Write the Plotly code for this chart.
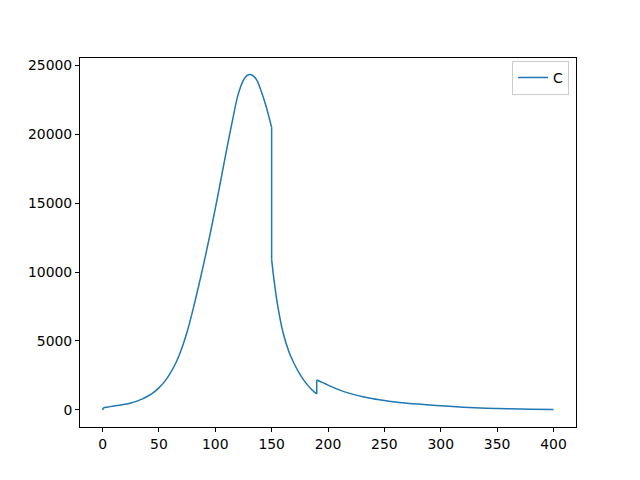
import plotly.graph_objects as go

t = [0, 1, 5, 10, 15, 20, 25, 30, 35, 40, 45, 50, 55, 60, 65, 70, 75, 80, 85, 90,
     95, 100, 105, 110, 115, 120, 125, 128, 131, 134, 137, 140, 145, 150, 150, 152, 155,
     160, 165, 170, 175, 180, 185, 190, 190, 195, 200, 210, 220, 230, 240, 250, 260,
     270, 280, 290, 300, 320, 340, 360, 380, 400]
c = [0, 150, 210, 290, 340, 410, 500, 620, 780, 990, 1250, 1600, 2050, 2650, 3400,
     4400, 5650, 7200, 8900, 10700, 12600, 14600, 16700, 18850, 20900, 22800, 23920,
     24250, 24340, 24220, 23900, 23300, 22050, 20500, 10900, 9500, 7750, 5650, 4300, 3350,
     2600, 2000, 1520, 1160, 2170, 2000, 1800, 1450, 1180, 980, 810, 680, 570, 490,
     420, 360, 300, 200, 120, 75, 45, 25]

x_ticks = [0, 50, 100, 150, 200, 250, 300, 350, 400]
y_ticks = [0, 5000, 10000, 15000, 20000, 25000]

# split the series into smooth pieces at the instantaneous jumps (repeated x)
breaks = [i for i in range(1, len(t)) if t[i] == t[i - 1]]
starts = [0] + breaks
ends = breaks + [len(t)]

color = "#1f77b4"
fig = go.Figure()
first = True
for s, e in zip(starts, ends):
    fig.add_trace(go.Scatter(x=t[s:e], y=c[s:e], mode="lines", name="C",
                             legendgroup="C", showlegend=first,
                             line=dict(color=color, width=1.5, shape="spline",
                                       smoothing=0.8)))
    first = False
for b in breaks:
    fig.add_trace(go.Scatter(x=t[b - 1:b + 1], y=c[b - 1:b + 1], mode="lines",
                             name="C", legendgroup="C", showlegend=False,
                             line=dict(color=color, width=1.5)))

axis_common = dict(showgrid=False, zeroline=False, showline=True, linecolor="black",
                   linewidth=1, mirror=True, ticks="outside", ticklen=4,
                   tickcolor="black", tickwidth=1,
                   tickfont=dict(family="DejaVu Sans", size=13.9, color="black"))

fig.update_layout(
    width=624, height=464,
    margin=dict(l=72, r=56, t=49.6, b=44.8),
    paper_bgcolor="white", plot_bgcolor="white",
    showlegend=True,
    legend=dict(x=0.986, y=0.992, xanchor="right", yanchor="top",
                bordercolor="#cccccc", borderwidth=1, bgcolor="white",
                font=dict(family="DejaVu Sans", size=13.9, color="black")),
    xaxis=dict(range=[-20, 420], tickvals=x_ticks,
               ticktext=[str(v) for v in x_ticks], **axis_common),
    yaxis=dict(range=[-1240, 25530], tickvals=y_ticks,
               ticktext=[str(v) for v in y_ticks], **axis_common),
)

fig.write_html("out.html")
